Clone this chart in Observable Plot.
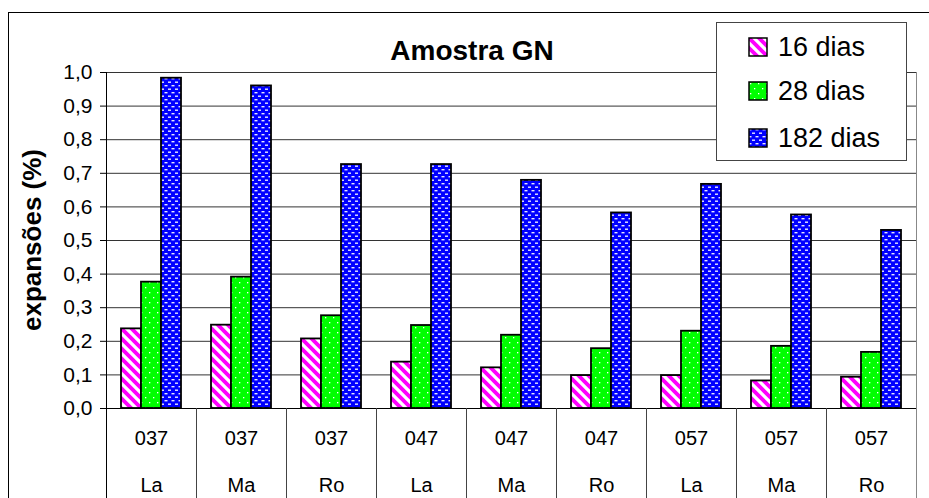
<!DOCTYPE html>
<html>
<head>
<meta charset="utf-8">
<script src="https://cdn.jsdelivr.net/npm/d3@7"></script>
<script src="https://cdn.jsdelivr.net/npm/@observablehq/plot@0.6"></script>
<style>
  html, body { margin: 0; padding: 0; background: #fff; }
  #wrap { position: relative; width: 929px; height: 498px; overflow: hidden; font-family: "Liberation Sans", Arial, sans-serif; color: #000; }
  #border { position: absolute; left: 8px; top: 12px; right: -2px; bottom: -2px; border-left: 1px solid #000; border-top: 1px solid #000; }
  #chart { position: absolute; left: 0; top: 0; }
  #title { position: absolute; left: 272px; width: 400px; top: 34px; text-align: center; font-weight: bold; font-size: 28px; line-height: 34px; }
  #ylabel { position: absolute; left: 32px; top: 240px; transform: translate(-50%, -50%) rotate(-90deg); font-weight: bold; font-size: 26px; white-space: nowrap; }
  #legend { position: absolute; left: 716px; top: 22px; width: 189px; height: 137px; border: 1px solid #444; background: #fff; }
  .row { position: absolute; left: 31px; height: 30px; display: flex; align-items: center; font-size: 27px; }
  .row svg { margin-right: 10px; }
</style>
</head>
<body>
<div id="wrap">
  <div id="border"></div>
  <div id="chart"></div>
  <div id="title">Amostra GN</div>
  <div id="ylabel">expansões (%)</div>
  <div id="legend"></div>
</div>
<script>
// ---- data ----
const mixes = ["037", "037", "037", "047", "047", "047", "057", "057", "057"];
const aggregates = ["La", "Ma", "Ro", "La", "Ma", "Ro", "La", "Ma", "Ro"];
const series = ["16 dias", "28 dias", "182 dias"];
const v16 = [0.237, 0.248, 0.207, 0.138, 0.121, 0.098, 0.098, 0.082, 0.093];
const v28 = [0.376, 0.391, 0.276, 0.247, 0.218, 0.178, 0.230, 0.185, 0.167];
const v182 = [0.983, 0.960, 0.726, 0.726, 0.679, 0.582, 0.667, 0.576, 0.530];
const yTicks = [0, 0.1, 0.2, 0.3, 0.4, 0.5, 0.6, 0.7, 0.8, 0.9, 1.0];
const yTickLabels = ["0,0", "0,1", "0,2", "0,3", "0,4", "0,5", "0,6", "0,7", "0,8", "0,9", "1,0"];
const patternIds = ["p16", "p28", "p182"];

// ---- table built from arrays ----
const cats = mixes.map((m, i) => m + " " + aggregates[i]);
const seriesValues = [v16, v28, v182];
const data = [];
cats.forEach((c, i) => series.forEach((s, j) => data.push({cat: c, series: s, value: seriesValues[j][i]})));

const defs = `
<pattern id="p16" patternUnits="userSpaceOnUse" width="10" height="10">
  <rect width="10" height="10" fill="#fff"/>
  <path d="M0,0L10,10M-5,5L5,15M5,-5L15,5" stroke="#ff00ff" stroke-width="3.8"/>
</pattern>
<pattern id="p28" patternUnits="userSpaceOnUse" width="8" height="10">
  <rect width="8" height="10" fill="#00ff00"/>
  <rect x="2" y="2" width="1.3" height="1.3" fill="#fff"/>
  <rect x="6" y="7" width="1.3" height="1.3" fill="#fff"/>
</pattern>
<pattern id="p182" patternUnits="userSpaceOnUse" width="7" height="7">
  <rect width="7" height="7" fill="#0000ff"/>
  <rect x="0.5" y="1" width="3" height="1.4" fill="#e8e8ff"/>
  <rect x="4" y="4.5" width="3" height="1.4" fill="#e8e8ff"/>
  <rect x="-3" y="4.5" width="3" height="1.4" fill="#e8e8ff"/>
</pattern>`;

const plot = Plot.plot({
  width: 929,
  height: 498,
  marginLeft: 103,
  marginRight: 10,
  marginTop: 72,
  marginBottom: 90,
  style: {fontFamily: "'Liberation Sans', Arial, sans-serif", fontSize: "20px", color: "#000", background: "transparent", overflow: "visible"},
  fx: {domain: cats, padding: 0, label: null},
  x: {domain: series, paddingInner: 0, paddingOuter: 0.7, axis: null},
  y: {domain: [0, 1], axis: null, label: null},
  color: {domain: series, range: patternIds.map(id => `url(#${id})`)},
  marks: [
    Plot.gridY(yTicks, {stroke: "#333", strokeOpacity: 1}),
    Plot.barY(data, {fx: "cat", x: "series", y: "value", fill: "series", stroke: "#000", strokeWidth: 1.8}),
    Plot.ruleY([0], {stroke: "#000"}),
    Plot.frame({anchor: "left", insetTop: 336, insetBottom: -92, stroke: "#444"}),
    Plot.frame({anchor: "left", facetAnchor: "left", insetBottom: -92, stroke: "#000"}),
    Plot.frame({anchor: "right", facetAnchor: "right", insetBottom: -92, stroke: "#888"}),
    Plot.axisY(yTicks, {label: null, tickSize: 6, tickPadding: 8, fontSize: 21, tickFormat: d => yTickLabels[yTicks.indexOf(d)]}),
    Plot.axisFx({anchor: "bottom", tickSize: 0, tickPadding: 3, fontSize: 20, lineHeight: 2.35, label: null, tickFormat: d => d.replace(" ", "\n")})
  ]
});

d3.select(plot).insert("defs", ":first-child").html(defs);
document.getElementById("chart").appendChild(plot);

// legend
const legend = d3.select("#legend");
const rowCenters = [24, 68, 115];
series.forEach((s, i) => {
  const row = legend.append("div").attr("class", "row").style("top", (rowCenters[i] - 15) + "px");
  const sw = row.append("svg").attr("width", 20).attr("height", 20);
  sw.append("rect").attr("x", 1).attr("y", 1).attr("width", 18).attr("height", 18)
    .attr("fill", `url(#${patternIds[i]})`).attr("stroke", "#000").attr("stroke-width", 1.5);
  row.append("span").text(s);
});
</script>
</body>
</html>
